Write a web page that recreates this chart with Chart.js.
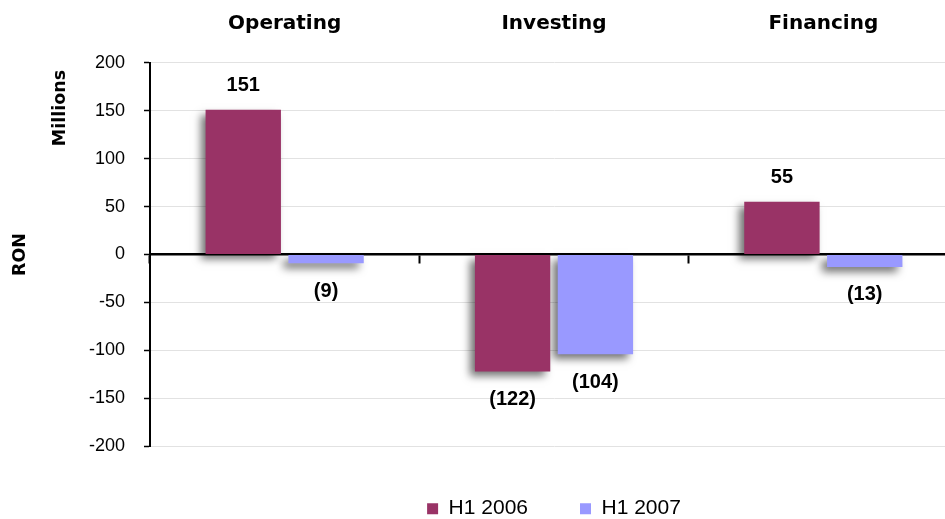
<!DOCTYPE html>
<html><head><meta charset="utf-8">
<script src="https://cdn.jsdelivr.net/npm/chart.js@4"></script>
<style>html,body{margin:0;padding:0;background:#fff;overflow:hidden}#wrap{width:945px;height:519px;overflow:hidden}canvas{display:block}</style>
</head><body><div id="wrap"><canvas id="c" width="958" height="519"></canvas></div>
<script>
const categories = ['Operating', 'Investing', 'Financing'];
const seriesNames = ['H1 2006', 'H1 2007'];
const h1_2006 = [151, -122, 55];
const h1_2007 = [-9, -104, -13];
const yMin = -200;
const yMax = 200;
const yStep = 50;
const yTitle = 'RON';
const unitLabel = 'Millions';
const colors = ['#993366', '#9999FF'];

const shadowPlugin = {
  id: 'barShadow',
  beforeDatasetsDraw(chart) {
    const ctx = chart.ctx;
    ctx.save();
    ctx.shadowColor = 'rgba(0,0,0,0.55)';
    ctx.shadowBlur = 8;
    ctx.shadowOffsetX = -5;
    ctx.shadowOffsetY = 5;
  },
  afterDatasetsDraw(chart) {
    chart.ctx.restore();
  }
};

const valueLabels = {
  id: 'valueLabels',
  afterDatasetsDraw(chart) {
    const ctx = chart.ctx;
    ctx.save();
    ctx.font = 'bold 20px "Liberation Sans", Arial, sans-serif';
    ctx.fillStyle = '#000';
    ctx.textAlign = 'center';
    ctx.textBaseline = 'middle';
    chart.data.datasets.forEach((ds, i) => {
      const meta = chart.getDatasetMeta(i);
      meta.data.forEach((el, j) => {
        const v = ds.data[j];
        const txt = v < 0 ? '(' + Math.abs(v) + ')' : String(v);
        const y = v < 0 ? el.y + 28 : el.y - 24;
        ctx.fillText(txt, el.x, y);
      });
    });
    ctx.restore();
  }
};

const unitTitle = {
  id: 'unitTitle',
  afterDraw(chart) {
    const ctx = chart.ctx;
    ctx.save();
    ctx.translate(60, 108);
    ctx.rotate(-Math.PI / 2);
    ctx.font = 'bold 17.5px "DejaVu Sans", sans-serif';
    ctx.fillStyle = '#000';
    ctx.textAlign = 'center';
    ctx.textBaseline = 'middle';
    ctx.fillText(unitLabel, 0, 0);
    ctx.restore();
  }
};

new Chart(document.getElementById('c'), {
  type: 'bar',
  data: {
    labels: categories,
    datasets: [
      { label: seriesNames[0], data: h1_2006, backgroundColor: colors[0], borderWidth: 0, xAxisID: 'x', yAxisID: 'y', barPercentage: 0.91, categoryPercentage: 0.615 },
      { label: seriesNames[1], data: h1_2007, backgroundColor: colors[1], borderWidth: 0, xAxisID: 'x', yAxisID: 'y', barPercentage: 0.91, categoryPercentage: 0.615 }
    ]
  },
  options: {
    responsive: false,
    animation: false,
    layout: { padding: 0 },
    plugins: {
      tooltip: { enabled: false },
      legend: {
        position: 'bottom',
        fullSize: false,
        maxHeight: 72.8,
        labels: {
          boxWidth: 11, boxHeight: 11, padding: 52, color: '#000',
          font: { family: '"Liberation Sans", Arial, sans-serif', size: 21 }
        }
      }
    },
    scales: {
      x: {
        position: { y: 0 },
        offset: true,
        ticks: { display: false },
        grid: { display: true, offset: true, drawOnChartArea: false, drawTicks: true, tickLength: 8, tickColor: '#000', tickWidth: 2 },
        border: { display: true, color: '#000', width: 2.5 }
      },
      xTop: {
        type: 'category',
        labels: categories,
        position: 'top',
        offset: true,
        grid: { display: false, drawTicks: false },
        border: { display: false },
        ticks: { padding: 27, color: '#000', maxRotation: 0, font: { family: '"DejaVu Sans", sans-serif', size: 20, weight: 'bold' } },
        afterFit: s => { s.height = 62.8; }
      },
      y: {
        min: yMin, max: yMax,
        ticks: { stepSize: yStep, padding: 19, color: '#000', font: { family: '"Liberation Sans", Arial, sans-serif', size: 18 } },
        grid: {
          color: c => (c.tick && c.tick.value === 0) ? 'rgba(0,0,0,0)' : '#e2e2e2',
          lineWidth: 1, tickColor: '#000', tickLength: 6, tickWidth: 1.5
        },
        border: { color: '#000', width: 2 },
        title: { display: true, text: yTitle, color: '#000', padding: { top: 9.5, bottom: 0 }, font: { family: '"DejaVu Sans", sans-serif', size: 17.5, weight: 'bold' } },
        afterFit: s => { s.width = 150; }
      }
    }
  },
  plugins: [shadowPlugin, valueLabels, unitTitle]
});
</script>
</body></html>
